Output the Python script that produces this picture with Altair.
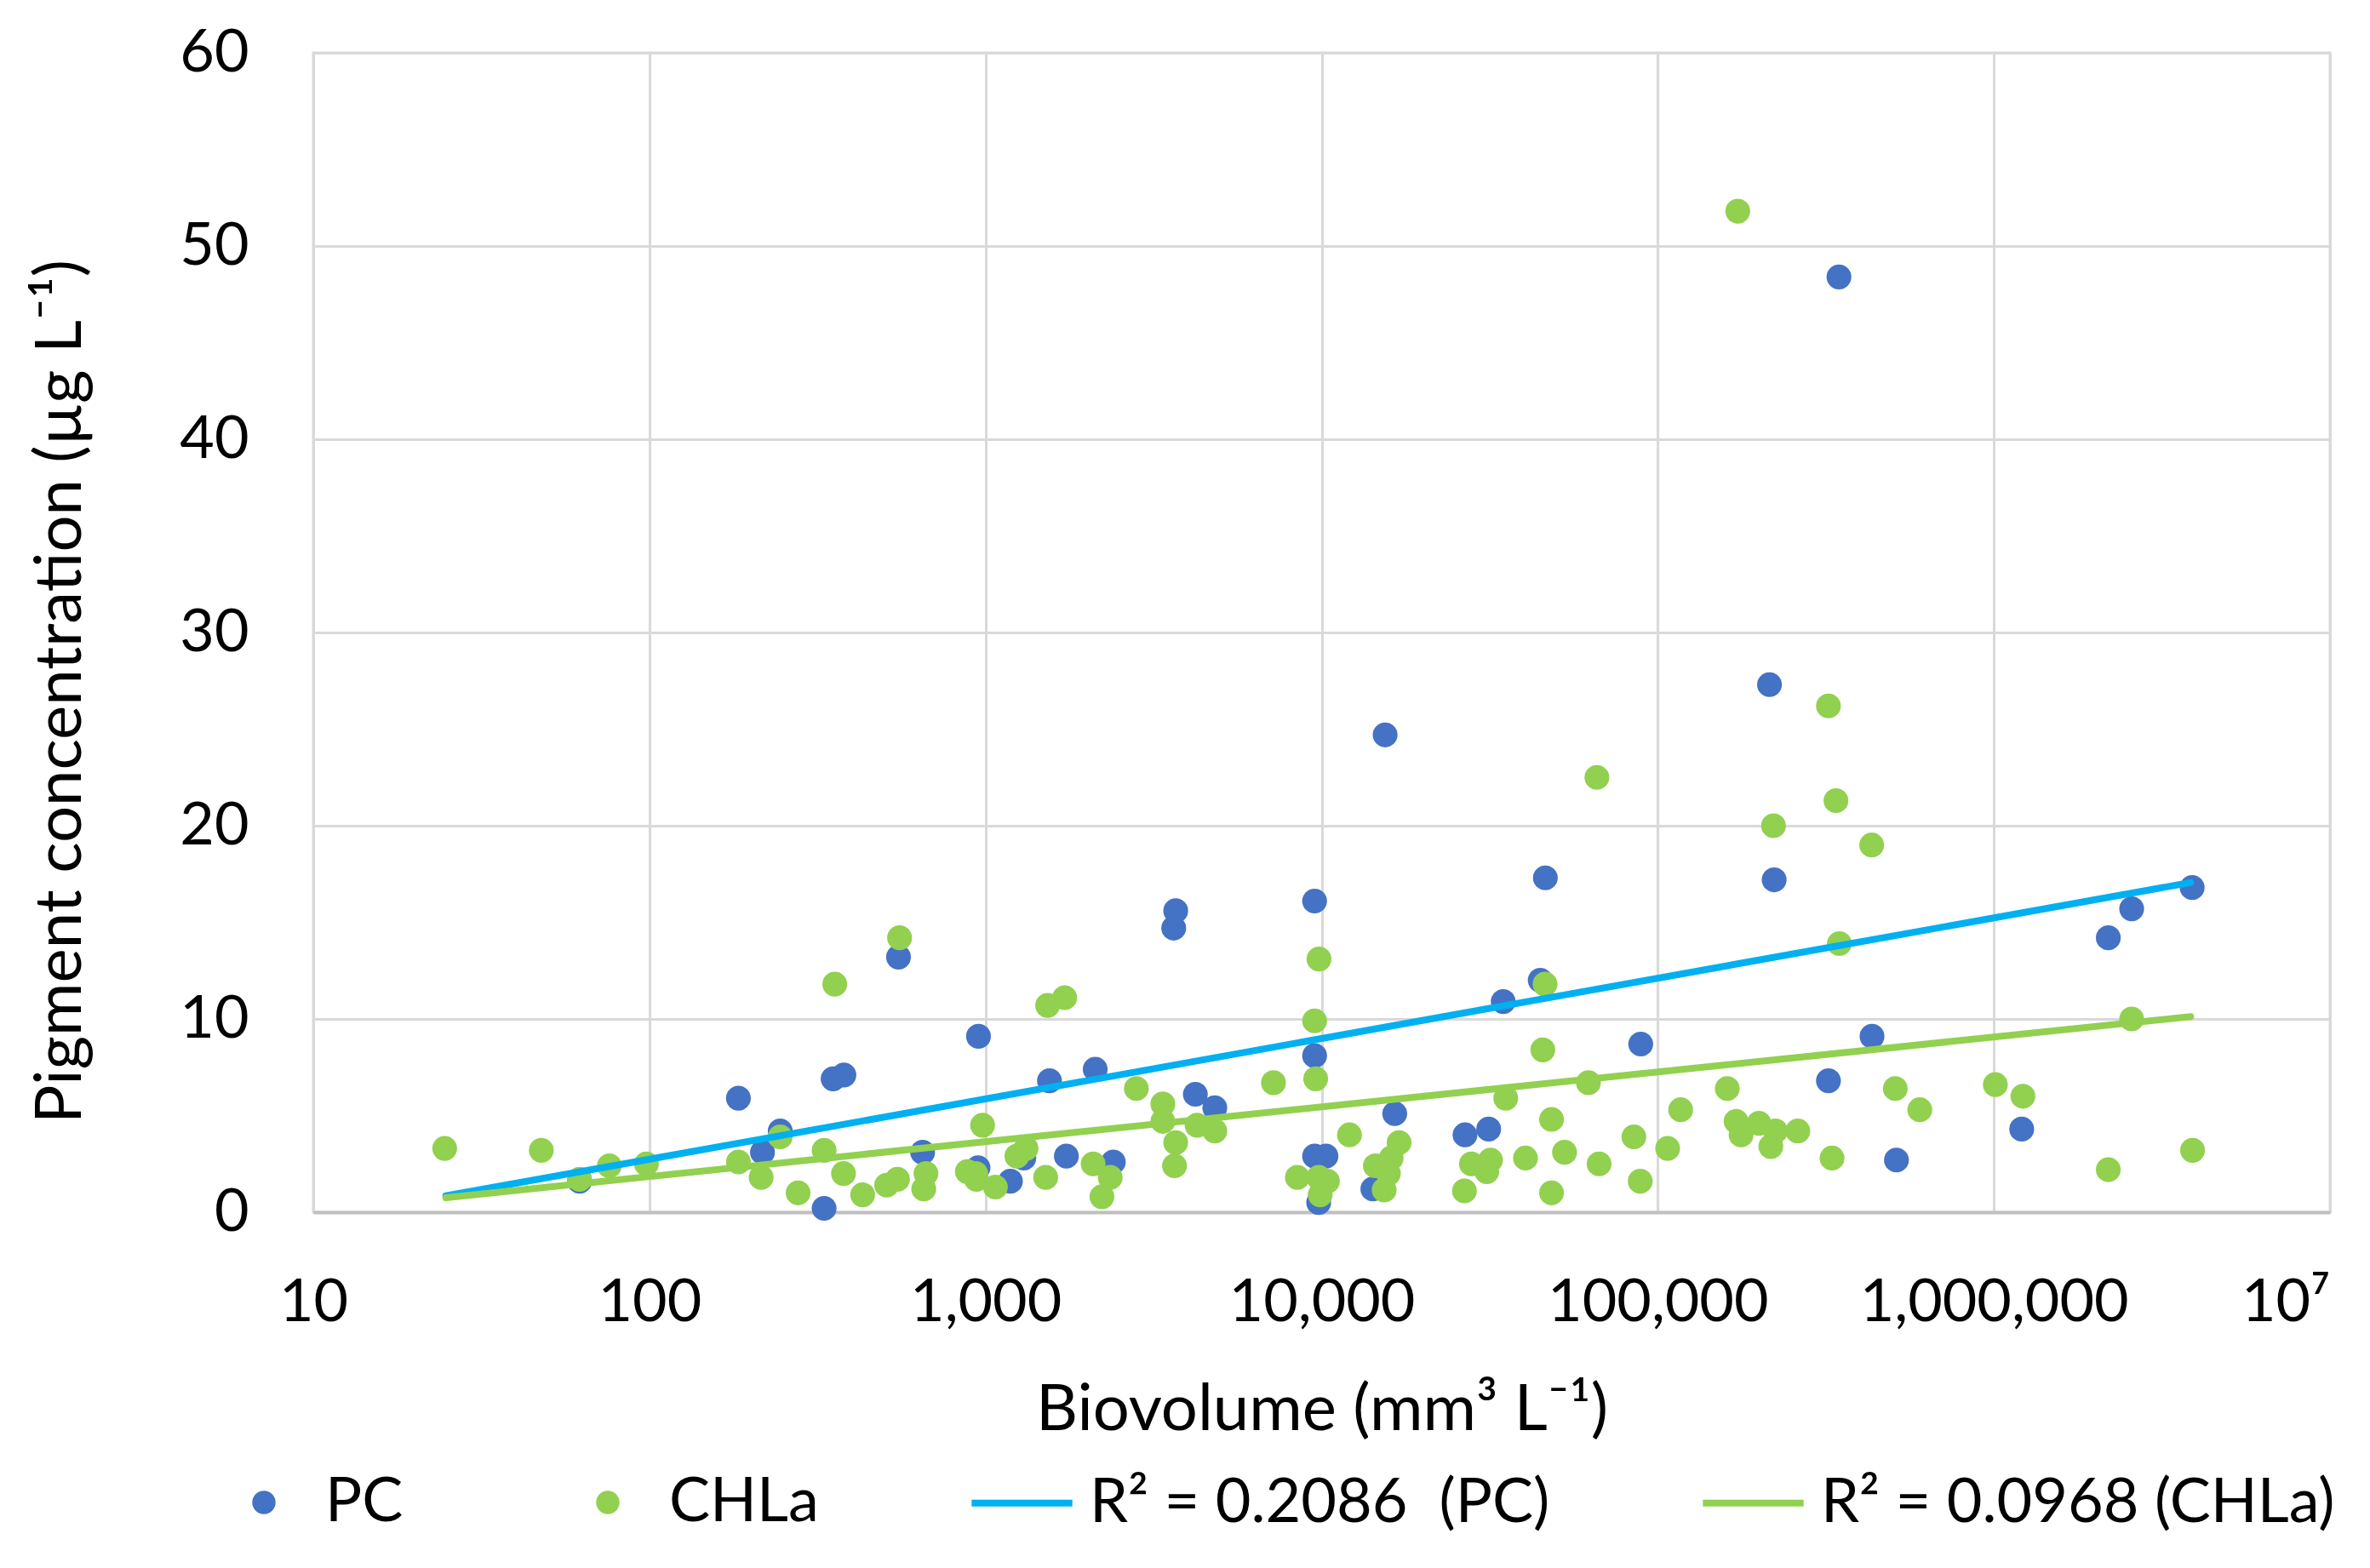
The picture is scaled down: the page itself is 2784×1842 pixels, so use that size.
import pandas as pd
import altair as alt

# PC (phycocyanin) points: biovolume vs pigment
pc_x = [62, 184, 217, 245, 331, 352, 379, 551, 650, 953,
        950, 1186, 1300, 1550, 1740, 2120, 2400, 3680, 3630, 4210,
        4810, 9530, 9530, 9530, 10300, 9800, 14200, 15450, 16500, 26700,
        31400, 34700, 44700, 46300, 89000, 215000, 222000, 346000, 322000, 434000,
        513000, 1210000, 2190000, 2570000, 3890000]
pc_y = [1.6, 5.9, 3.1, 4.2, 0.2, 6.9, 7.1, 13.2, 3.1, 9.1,
        2.3, 1.6, 2.8, 6.8, 2.9, 7.4, 2.6, 15.6, 14.7, 6.1,
        5.4, 16.1, 8.1, 2.9, 2.9, 0.5, 1.2, 24.7, 5.1, 4.0,
        4.3, 10.9, 12.0, 17.3, 8.7, 27.3, 17.2, 48.4, 6.8, 9.1,
        2.7, 4.3, 14.2, 15.7, 16.8]

# CHLa points
chla_x = [24.6, 47.7, 62, 76, 98, 184, 215, 245, 277, 331,
          378, 356, 431, 508, 547, 555, 665, 655, 883, 935,
          940, 980, 1070, 1240, 1320, 1530, 1720, 1510, 2090, 2220,
          2350, 2810, 3370, 3370, 3680, 3650, 4260, 4810, 7190, 9820,
          9530, 9600, 8470, 9800, 10400, 9900, 12100, 14450, 15350, 16100,
          17000, 15800, 26600, 27900, 31800, 31000, 35300, 40400, 45500, 46200,
          48300, 48300, 52800, 62200, 66900, 65900, 84900, 88700, 107000, 117000,
          161000, 171000, 177000, 200000, 217000, 224000, 261000, 330000, 173000, 221000,
          322000, 339000, 347000, 433000, 509000, 602000, 1010000, 1220000, 2190000, 2570000,
          3900000]
chla_y = [3.3, 3.2, 1.7, 2.4, 2.5, 2.6, 1.8, 3.9, 1.0, 3.2,
          2.0, 11.8, 0.9, 1.4, 1.7, 14.2, 2.0, 1.2, 2.1, 2.0,
          1.7, 4.5, 1.3, 2.9, 3.3, 10.7, 11.1, 1.8, 2.5, 0.8,
          1.8, 6.4, 5.6, 4.7, 3.6, 2.4, 4.5, 4.2, 6.7, 13.1,
          9.9, 6.9, 1.8, 1.8, 1.6, 0.9, 4.0, 2.4, 1.15, 2.8,
          3.6, 2.0, 1.1, 2.5, 2.7, 2.1, 5.9, 2.8, 8.4, 11.8,
          4.8, 1.0, 3.1, 6.7, 2.5, 22.5, 3.9, 1.6, 3.3, 5.3,
          6.4, 4.7, 4.0, 4.6, 3.4, 4.2, 4.2, 2.8, 51.8, 20.0,
          26.2, 21.3, 13.9, 19.0, 6.4, 5.3, 6.6, 6.0, 2.2, 10.0,
          3.2]

# logaritmiske trendlinjer (rette linjer på log-akse), endepunkter lest av figuren
trend_x = [24.8, 3850000]
pc_trend_y = [0.85, 17.06]
chla_trend_y = [0.75, 10.12]

series_names = ["PC", "CHLa"]
trend_names = ["R\u00b2 = 0.2086 \u00a0(PC)", "R\u00b2 = 0.0968 (CHLa)"]

FONT = "Lato"

points = pd.DataFrame({
    "x": pc_x + chla_x,
    "y": pc_y + chla_y,
    "series": ["PC"] * len(pc_x) + ["CHLa"] * len(chla_x),
})
trend = pd.DataFrame({
    "x": trend_x + trend_x,
    "y": pc_trend_y + chla_trend_y,
    "trend": [trend_names[0]] * 2 + [trend_names[1]] * 2,
})

x_enc = alt.X(
    "x:Q",
    scale=alt.Scale(type="log", domain=[10, 10000000]),
    axis=alt.Axis(
        title="Biovolume (mm\u00b3 L\u207b\u00b9)",
        values=[10, 100, 1000, 10000, 100000, 1000000, 10000000],
        labelExpr="datum.value >= 10000000 ? '10\u2077' : format(datum.value, ',')",
        labelAlign=alt.condition("datum.value >= 10000000", alt.value("right"), alt.value("center")),
        ticks=False,
        labelFlush=False,
        labelLimit=1000,
        labelPadding=72,
        titlePadding=54,
        titleFontSize=76,
        domainColor="#BFBFBF",
        domainWidth=4,
    ),
)
y_enc = alt.Y(
    "y:Q",
    scale=alt.Scale(domain=[0, 60]),
    axis=alt.Axis(
        title="Pigment concentration (\u00b5g L\u207b\u00b9)",
        values=[0, 10, 20, 30, 40, 50, 60],
        ticks=False,
        domain=False,
        labelPadding=76,
        titlePadding=100,
        titleFontSize=76,
        titleY=750,
    ),
)

dots = alt.Chart(points).mark_circle(size=850, opacity=1).encode(
    x=x_enc,
    y=y_enc,
    color=alt.Color(
        "series:N",
        scale=alt.Scale(domain=series_names, range=["#4472C4", "#92D050"]),
        legend=alt.Legend(
            title=None, orient="none", legendX=-94, legendY=1667,
            direction="horizontal", symbolType="circle", symbolSize=750,
            symbolStrokeWidth=0, labelOffset=36, columnPadding=120,
            gridAlign="all", padding=0,
        ),
    ),
)

lines = alt.Chart(trend).mark_line(strokeWidth=8, strokeCap="round").encode(
    x="x:Q",
    y="y:Q",
    stroke=alt.Stroke(
        "trend:N",
        scale=alt.Scale(domain=trend_names, range=["#00B0F0", "#92D050"]),
        legend=alt.Legend(
            title=None, orient="none", legendX=769, legendY=1640,
            direction="horizontal", symbolType="stroke", symbolSize=14000,
            symbolStrokeWidth=8, labelOffset=16, columnPadding=100,
            gridAlign="all", padding=0,
        ),
    ),
)

chart = alt.layer(dots, lines).properties(
    width=2369,
    height=1362,
    autosize="none",
    padding={"left": 360, "top": 54, "right": 39, "bottom": 410},
).configure_view(
    stroke="#D9D9D9", strokeWidth=3
).configure_axis(
    labelFont=FONT, labelFontSize=70, labelColor="#000000",
    titleFont=FONT, titleFontSize=76, titleColor="#000000", titleFontWeight="normal",
    gridColor="#D9D9D9", gridWidth=3,
).configure_legend(
    labelFont=FONT, labelFontSize=72, labelColor="#000000", labelLimit=1000,
)

chart.save("out.html", embed_options={"renderer": "svg", "actions": False})
